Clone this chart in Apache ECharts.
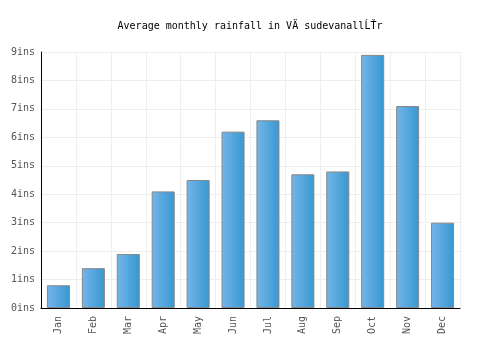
<!DOCTYPE html>
<html>
<head>
<meta charset="utf-8">
<script src="https://cdn.jsdelivr.net/npm/echarts@6/dist/echarts.min.js"></script>
<style>
  html, body { margin: 0; padding: 0; background: #fff; }
  #main { width: 500px; height: 350px; }
</style>
</head>
<body>
<div id="main"></div>
<script>
var months = ['Jan', 'Feb', 'Mar', 'Apr', 'May', 'Jun', 'Jul', 'Aug', 'Sep', 'Oct', 'Nov', 'Dec'];
var rainfall = [0.8, 1.4, 1.9, 4.1, 4.5, 6.2, 6.6, 4.7, 4.8, 8.9, 7.1, 3.0];
var titleText = 'Average monthly rainfall in VÄ sudevanallĹŤr';

var chart = echarts.init(document.getElementById('main'));
var mono = '"DejaVu Sans Mono", monospace';

option = {
    animation: false,
    title: {
        text: titleText,
        left: 'center',
        top: 16,
        textStyle: { fontFamily: mono, fontSize: 10, fontWeight: 'normal', color: '#000' }
    },
    grid: { left: 41, right: 40, top: 52, bottom: 42 },
    xAxis: {
        type: 'category',
        data: months,
        axisLine: { lineStyle: { color: '#000', width: 1 } },
        axisTick: { show: false },
        splitLine: { show: true, interval: 0, lineStyle: { color: '#eeeeee' } },
        axisLabel: { rotate: 90, interval: 0, fontFamily: mono, fontSize: 10, color: '#555', margin: 8 }
    },
    yAxis: {
        type: 'value',
        min: 0,
        max: 9,
        interval: 1,
        axisLine: { show: true, lineStyle: { color: '#000', width: 1 } },
        axisTick: { show: false },
        splitLine: { lineStyle: { color: '#eeeeee' } },
        axisLabel: { formatter: '{value}ins', fontFamily: mono, fontSize: 10, color: '#555', margin: 6 }
    },
    series: [{
        type: 'bar',
        data: rainfall,
        barWidth: '66%',
        itemStyle: {
            borderColor: '#888',
            borderWidth: 1,
            color: {
                type: 'linear', x: 0, y: 0, x2: 1, y2: 0,
                colorStops: [{ offset: 0, color: '#74b6ea' }, { offset: 1, color: '#3797d0' }]
            }
        }
    }]
};
chart.setOption(option);
</script>
</body>
</html>
